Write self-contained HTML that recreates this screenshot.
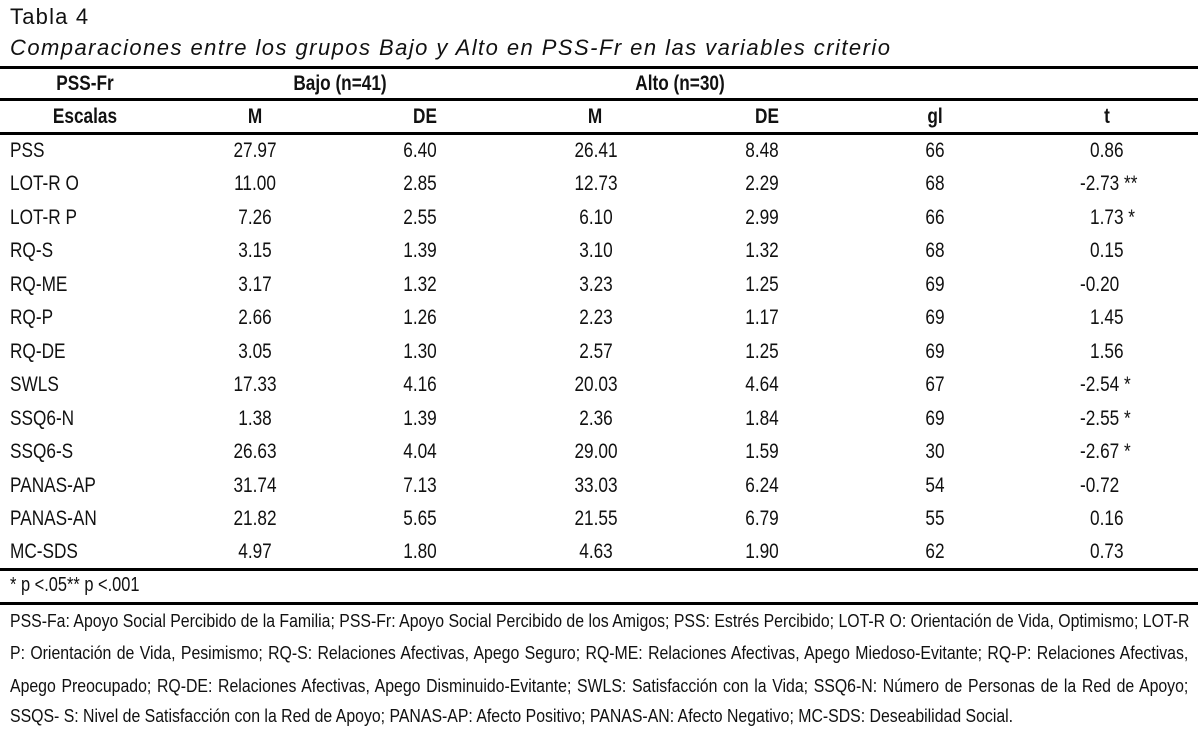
<!DOCTYPE html>
<html><head><meta charset="utf-8">
<style>
html,body{margin:0;padding:0;background:#fff;}
body{width:1198px;height:737px;position:relative;overflow:hidden;font-family:"Liberation Sans",sans-serif;color:#111;}
.t{position:absolute;white-space:nowrap;}
.n{font-size:21px;transform:scaleX(0.82);}
.c{transform-origin:center;}
.r{transform-origin:right;}
.l{transform-origin:left;}
.b{font-weight:bold;}
.rule{position:absolute;left:0;width:1198px;background:#000;}
.nl{position:absolute;left:10px;width:1339px;font-size:18px;white-space:nowrap;transform:scaleX(0.88);transform-origin:left;text-align:justify;text-align-last:justify;}
.nl.last{text-align-last:left;}
</style></head><body>
<div class="t" style="left:10px;top:4px;font-size:22px;letter-spacing:1.2px;">Tabla 4</div>
<div class="t" style="left:10px;top:35px;font-size:22px;font-style:italic;letter-spacing:1.45px;">Comparaciones entre los grupos Bajo y Alto en PSS-Fr en las variables criterio</div>
<div class="rule" style="top:66px;height:3px;"></div>
<div class="rule" style="top:98px;height:3px;"></div>
<div class="rule" style="top:132px;height:3px;"></div>
<div class="rule" style="top:568px;height:3px;"></div>
<div class="rule" style="top:602px;height:3px;"></div>
<div id="tbl"></div>
<div class="t n l" style="left:10px;top:574px;font-size:20px;">* p &lt;.05** p &lt;.001</div>
<div>
<div class="nl" style="top:611px;">PSS-Fa: Apoyo Social Percibido de la Familia; PSS-Fr: Apoyo Social Percibido de los Amigos; PSS: Estrés Percibido; LOT-R O: Orientación de Vida, Optimismo; LOT-R</div>
<div class="nl" style="top:643px;">P: Orientación de Vida, Pesimismo; RQ-S: Relaciones Afectivas, Apego Seguro; RQ-ME: Relaciones Afectivas, Apego Miedoso-Evitante; RQ-P: Relaciones Afectivas,</div>
<div class="nl" style="top:676px;">Apego Preocupado; RQ-DE: Relaciones Afectivas, Apego Disminuido-Evitante; SWLS: Satisfacción con la Vida; SSQ6-N: Número de Personas de la Red de Apoyo;</div>
<div class="nl last" style="top:706px;">SSQS- S: Nivel de Satisfacción con la Red de Apoyo; PANAS-AP: Afecto Positivo; PANAS-AN: Afecto Negativo; MC-SDS: Deseabilidad Social.</div>
</div>
<script>
const scales=["PSS","LOT-R O","LOT-R P","RQ-S","RQ-ME","RQ-P","RQ-DE","SWLS","SSQ6-N","SSQ6-S","PANAS-AP","PANAS-AN","MC-SDS"];
const bajoM=["27.97","11.00","7.26","3.15","3.17","2.66","3.05","17.33","1.38","26.63","31.74","21.82","4.97"];
const bajoDE=["6.40","2.85","2.55","1.39","1.32","1.26","1.30","4.16","1.39","4.04","7.13","5.65","1.80"];
const altoM=["26.41","12.73","6.10","3.10","3.23","2.23","2.57","20.03","2.36","29.00","33.03","21.55","4.63"];
const altoDE=["8.48","2.29","2.99","1.32","1.25","1.17","1.25","4.64","1.84","1.59","6.24","6.79","1.90"];
const gl=["66","68","66","68","69","69","69","67","69","30","54","55","62"];
const tval=["0.86","-2.73","1.73","0.15","-0.20","1.45","1.56","-2.54","-2.55","-2.67","-0.72","0.16","0.73"];
const sig=["","**","*","","","","","*","*","*","","",""];
const tbl=document.getElementById('tbl');
function txt(s,x,y,cls,align){
  const d=document.createElement('div');
  d.className='t n '+cls;
  d.textContent=s;
  if(align==='c'){d.style.left=(x-150)+'px';d.style.width='300px';d.style.textAlign='center';}
  else{d.style.left=x+'px';}
  d.style.top=y+'px';
  tbl.appendChild(d);return d;
}
let e;
e=txt("PSS-Fr",85,72,'c b','c');


e=txt("Bajo (n=41)",340,72,'c b','c');


e=txt("Alto (n=30)",680,72,'c b','c');


const hdr=[["Escalas",85],["M",255],["DE",425],["M",595],["DE",767],["gl",935],["t",1107]];
hdr.forEach(h=>{
  e=txt(h[0],h[1],105,'c b','c');
  
  
});
const y0=139,dy=33.45;
scales.forEach((s,i)=>{
  const y=y0+i*dy;
  e=txt(s,10,y,'l','l');
  
  
  e=txt(bajoM[i],255,y,'c','c');
  
  
  e=txt(bajoDE[i],420,y,'c','c');
  
  
  e=txt(altoM[i],596,y,'c','c');
  
  
  e=txt(altoDE[i],762,y,'c','c');
  
  
  e=txt(gl[i],935,y,'c','c');
  
  
  e=txt(tval[i]+(sig[i]?' '+sig[i]:''),1130-(tval[i].length*10),y,'l','l');
  
  
});
</script>
</body></html>
